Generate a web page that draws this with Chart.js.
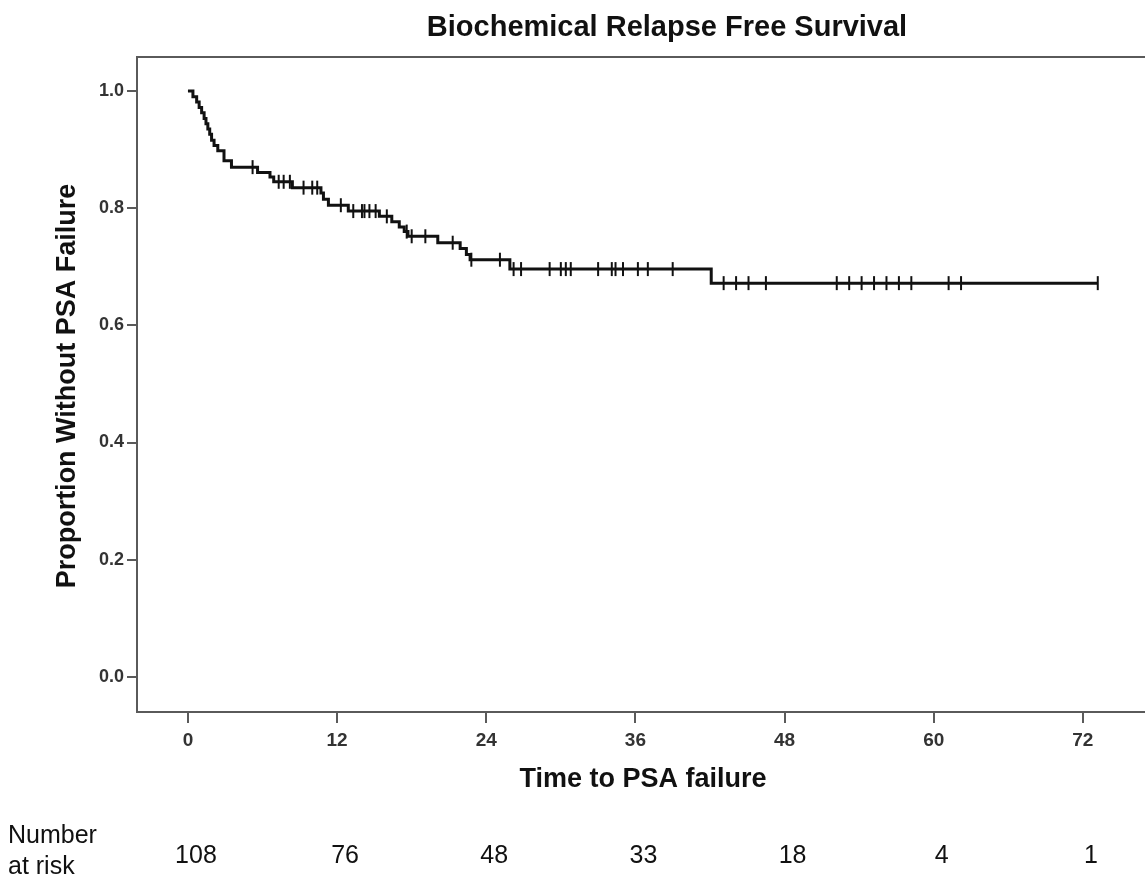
<!DOCTYPE html>
<html>
<head>
<meta charset="utf-8">
<script src="https://cdn.jsdelivr.net/npm/chart.js@4"></script>
<style>
  html, body { margin: 0; padding: 0; background: #fff; overflow: hidden; }
  #wrap { width: 1145px; height: 884px; position: relative; }
</style>
</head>
<body>
<div id="wrap"><canvas id="c" width="1145" height="884"></canvas></div>
<script>
// ---- data ----
const chartTitle = "Biochemical Relapse Free Survival";
const xTitle = "Time to PSA failure";
const yTitle = "Proportion Without PSA Failure";
const eventTimes = [0, 0.4, 0.7, 0.9, 1.1, 1.3, 1.45, 1.6, 1.75, 1.9, 2.1, 2.4, 2.9, 3.5, 5.6, 6.6, 6.9, 8.4, 10.7, 10.9, 11.3, 12.9, 15.4, 16.4, 17.0, 17.4, 17.7, 20.1, 21.9, 22.4, 22.7, 25.9, 42.1, 73.2];
const survival   = [1.0, 0.990, 0.981, 0.972, 0.963, 0.953, 0.944, 0.935, 0.926, 0.916, 0.907, 0.898, 0.881, 0.870, 0.861, 0.853, 0.845, 0.835, 0.826, 0.815, 0.805, 0.795, 0.786, 0.777, 0.768, 0.760, 0.752, 0.741, 0.731, 0.721, 0.712, 0.696, 0.672, 0.672];
const censorTimes = [5.2, 7.3, 7.7, 8.2, 9.3, 10.0, 10.4, 12.3, 13.3, 14.0, 14.2, 14.6, 15.1, 16.0, 17.6, 18.0, 19.1, 21.3, 22.8, 25.1, 26.2, 26.8, 29.1, 30.0, 30.4, 30.8, 33.0, 34.1, 34.4, 35.0, 36.2, 37.0, 39.0, 43.1, 44.1, 45.1, 46.5, 52.2, 53.2, 54.2, 55.2, 56.2, 57.2, 58.2, 61.2, 62.2, 73.2];
const xTickValues = [0, 12, 24, 36, 48, 60, 72];
const yTickValues = [0, 0.2, 0.4, 0.6, 0.8, 1.0];
const atRiskLabel = ["Number", "at risk"];
const atRiskTimes = [0, 12, 24, 36, 48, 60, 72];
const atRiskCounts = [108, 76, 48, 33, 18, 4, 1];

// survival value on the curve at a censoring time (step lookup)
function survAt(t) {
  let s = survival[0];
  for (let i = 0; i < eventTimes.length; i++) { if (eventTimes[i] <= t) s = survival[i]; }
  return s;
}

const curvePts = eventTimes.map((t, i) => ({ x: t, y: survival[i] }));
const censorPts = censorTimes.map(t => ({ x: t, y: survAt(t) }));

const FONT = "'Liberation Sans', Arial, Helvetica, sans-serif";
const AXIS = '#5a5a5a';

const decorPlugin = {
  id: 'decor',
  afterDraw(chart) {
    const { ctx, chartArea } = chart;
    const xs = chart.scales.x;
    ctx.save();
    // top frame line
    ctx.strokeStyle = AXIS; ctx.lineWidth = 2;
    ctx.beginPath();
    ctx.moveTo(chartArea.left - 1, chartArea.top);
    ctx.lineTo(chartArea.right, chartArea.top);
    ctx.stroke();
    // title
    ctx.fillStyle = '#111';
    ctx.textAlign = 'center'; ctx.textBaseline = 'middle';
    ctx.font = 'bold 29px ' + FONT;
    ctx.fillText(chartTitle, 667, 28);
    // x title
    ctx.font = 'bold 27px ' + FONT;
    ctx.fillText(xTitle, 643, 780);
    // y title
    ctx.save();
    ctx.translate(68, 386);
    ctx.rotate(-Math.PI / 2);
    ctx.fillText(yTitle, 0, 0);
    ctx.restore();
    // number at risk
    ctx.font = '25px ' + FONT;
    ctx.fillStyle = '#111';
    ctx.textAlign = 'left';
    ctx.fillText(atRiskLabel[0], 8, 836);
    ctx.fillText(atRiskLabel[1], 8, 867);
    ctx.textAlign = 'center';
    atRiskTimes.forEach((t, i) => {
      ctx.fillText(String(atRiskCounts[i]), xs.getPixelForValue(t) + 8, 856);
    });
    ctx.restore();
  }
};

new Chart(document.getElementById('c'), {
  type: 'line',
  data: {
    datasets: [
      {
        label: 'KM', data: curvePts, stepped: 'before',
        borderColor: '#111', borderWidth: 3, pointRadius: 0, fill: false, tension: 0
      },
      {
        type: 'scatter', label: 'Censored', data: censorPts, showLine: false,
        pointStyle: 'line', rotation: 90, pointRadius: 7, borderColor: '#111',
        backgroundColor: '#111', pointBorderWidth: 2, pointHoverRadius: 7
      }
    ]
  },
  plugins: [decorPlugin],
  options: {
    responsive: false, animation: false,
    events: [],
    layout: { autoPadding: false, padding: { top: 57, left: 0, right: 0, bottom: 0 } },
    plugins: { legend: { display: false }, title: { display: false }, tooltip: { enabled: false } },
    scales: {
      x: {
        type: 'linear', min: -4.1, max: 77.0,
        afterBuildTicks(s) { s.ticks = xTickValues.map(v => ({ value: v })); },
        afterFit(s) { s.height = 884 - 712; s.paddingLeft = 0; s.paddingRight = 0; },
        grid: { display: true, drawOnChartArea: false, drawTicks: true, tickLength: 11, color: AXIS, lineWidth: 2 },
        border: { display: true, color: AXIS, width: 2 },
        ticks: { color: '#333', font: { family: FONT, size: 19, weight: 'bold' }, padding: 6, maxRotation: 0, autoSkip: false }
      },
      y: {
        type: 'linear', min: -0.06, max: 1.058,
        afterBuildTicks(s) { s.ticks = yTickValues.map(v => ({ value: v })); },
        afterFit(s) { s.width = 137; s.paddingTop = 0; s.paddingBottom = 0; },
        grid: { display: true, drawOnChartArea: false, drawTicks: true, tickLength: 10, color: AXIS, lineWidth: 2 },
        border: { display: true, color: AXIS, width: 2 },
        ticks: { color: '#333', font: { family: FONT, size: 18, weight: 'bold' }, padding: 3, autoSkip: false,
                 callback: v => Number(v).toFixed(1) }
      }
    }
  }
});
</script>
</body>
</html>
